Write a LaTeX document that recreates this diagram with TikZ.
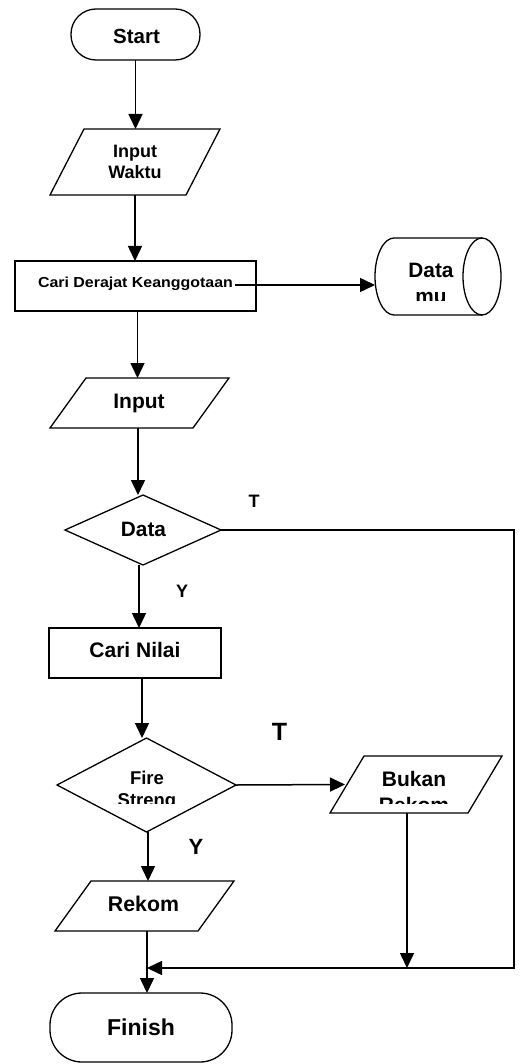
\documentclass[tikz,border=0pt]{standalone}
\usepackage{fontspec}
\setmainfont{Liberation Sans}
\usetikzlibrary{arrows.meta,shapes.geometric}
\newcommand\fsz[1]{\fontsize{#1}{#1}\selectfont\bfseries}
\newcommand\drawpara[2]{\draw[line width=1.3pt] ([xshift=#2]#1.north west) -- (#1.north east) -- ([xshift=-#2]#1.south east) -- (#1.south west) -- cycle;}
\begin{document}
\begin{tikzpicture}[x=1pt,y=-1pt,
  shapebox/.style={draw,line width=1.3pt,inner sep=0pt,outer sep=0pt},
  ghost/.style={inner sep=0pt,outer sep=0pt},
  lbl/.style={inner sep=0pt,outer sep=0pt,anchor=base},
  arr/.style={line width=1.5pt,-{Triangle[length=15pt,width=14pt]}},
  ln/.style={line width=1.5pt}]
\useasboundingbox (0,0) rectangle (522,1064);

% shapes
\node[shapebox,rounded corners=25pt,minimum width=129pt,minimum height=51pt] (start) at (135.5,34.5) {};
\node[ghost,minimum width=170pt,minimum height=66pt] (iw) at (135,162) {};
\drawpara{iw}{34pt}
\node[shapebox,minimum width=241pt,minimum height=50pt] (cdk) at (135.5,286) {};
\node[ghost,minimum width=126pt,minimum height=77pt] (db) at (438,276.5) {};
\draw[line width=1.3pt] (482,238) -- (394,238) arc[start angle=90,end angle=270,x radius=19pt,y radius=38.5pt] -- (482,315);
\draw[line width=1.3pt] (482,276.5) ellipse[x radius=19pt,y radius=38.5pt];
\node[ghost,minimum width=179pt,minimum height=50pt] (inp) at (139.5,403) {};
\drawpara{inp}{36pt}
\node[shapebox,diamond,minimum width=156pt,minimum height=70pt] (dd) at (143,530) {};
\node[shapebox,minimum width=172pt,minimum height=50pt] (cn) at (135,653) {};
\node[shapebox,diamond,minimum width=179pt,minimum height=94pt] (fd) at (146.5,785) {};
\node[ghost,minimum width=172pt,minimum height=57pt] (br) at (416,784.5) {};
\drawpara{br}{34pt}
\node[ghost,minimum width=179pt,minimum height=50pt] (rk) at (144.5,906) {};
\drawpara{rk}{36pt}
\node[shapebox,rounded corners=32pt,minimum width=182pt,minimum height=69pt] (fin) at (141,1027.5) {};

% labels
\node[lbl] (startT) at (136.5,44) {\fsz{20.5}Start};
\node[lbl] (iwT1) at (135,157.3) {\fsz{18}Input};
\node[lbl] (iwT2) at (135,178.3) {\fsz{18}Waktu};
\node[lbl] (cdkT) at (135.5,287.3) {\fsz{14.5}\scalebox{1.1}[1]{Cari Derajat Keanggotaan}};
\node[lbl] (dbT1) at (431,278) {\fsz{20.8}Data};
\begin{scope}
\clip (375,230) rectangle (501,300);
\node[lbl] (dbT2) at (431,303) {\fsz{20.8}mu};
\end{scope}
\node[lbl] (inpT) at (139,408.3) {\fsz{21}Input};
\node[lbl] (ddT) at (143.5,536.7) {\fsz{20.8}Data};
\node[lbl] (t1) at (254,507.7) {\fsz{18}T};
\node[lbl] (y1) at (182,597.7) {\fsz{18}Y};
\node[lbl] (cnT) at (135,657.7) {\fsz{21}Cari Nilai};
\node[lbl] (t2) at (279.5,740) {\fsz{25}T};
\node[lbl] (fdT1) at (147,784.3) {\fsz{18.5}Fire};
\begin{scope}
\clip (57,788) rectangle (236,803);
\node[lbl] (fdT2) at (147,806.5) {\fsz{18.5}Streng};
\end{scope}
\node[lbl] (brT1) at (414,786.7) {\fsz{21}Bukan};
\begin{scope}
\clip (330,792) rectangle (502,803);
\node[lbl] (brT2) at (414,812.3) {\fsz{21}Rekom};
\end{scope}
\node[lbl] (y2) at (196,854) {\fsz{22}Y};
\node[lbl] (rkT) at (143.5,911) {\fsz{21.3}Rekom};
\node[lbl] (finT) at (141,1035) {\fsz{23}Finish};

% connectors
\coordinate (j) at (147,968);
\coordinate (rc) at (514,968);
\draw[arr] (start.south) -- (start.south |- iw.north);
\draw[arr] (iw.south) -- (iw.south |- cdk.north);
\draw[arr] ([xshift=2pt]cdk.south) -- ([xshift=2pt]cdk.south |- inp.north);
\draw[arr] ([xshift=-1.5pt]inp.south) -- ([xshift=-1.5pt]inp.south |- dd.north);
\draw[arr] ([xshift=-4pt]dd.south) -- ([xshift=-4pt]dd.south |- cn.north);
\draw[arr] ([xshift=7pt]cn.south) -- ([xshift=7pt]cn.south |- fd.north);
\draw[arr] ([xshift=2pt,yshift=2.3pt]cdkT.base east) -- ([yshift=2.3pt]cdkT.base east -| db.west);
\draw[arr] (fd.east) -- ([xshift=15pt]br.west);
\draw[arr] ([xshift=1.5pt]fd.south) -- ([xshift=1.5pt]fd.south |- rk.north);
\draw[arr] (rk.south -| j) -- (j |- fin.north);
\draw[arr] (dd.east) -| (rc) -- (j);
\draw[arr] ([xshift=-9pt]br.south) -- ([xshift=-9pt]br.south |- j);
\end{tikzpicture}
\end{document}
